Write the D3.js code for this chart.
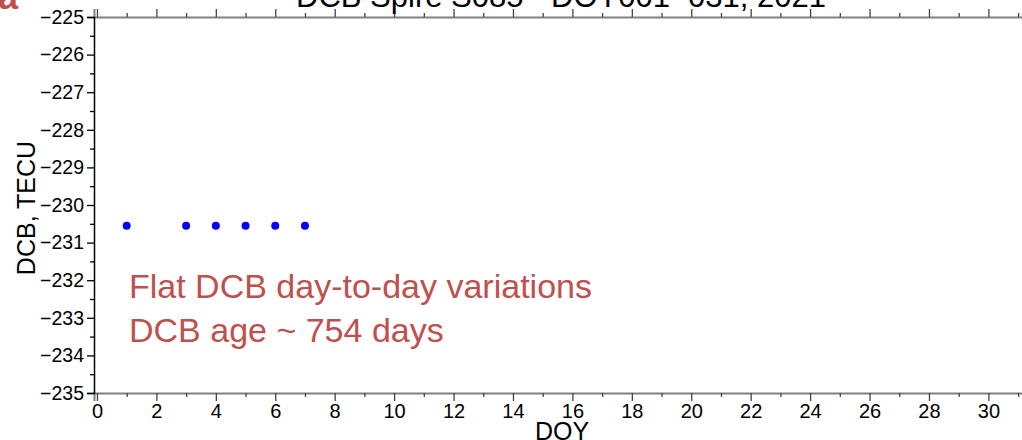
<!DOCTYPE html>
<html><head><meta charset="utf-8">
<script src="https://d3js.org/d3.v7.min.js"></script>
<style>body{margin:0;background:#fff}svg{display:block;font-family:"Liberation Sans",Arial,Helvetica,sans-serif}</style>
</head><body><svg id="c" width="1022" height="440"></svg>
<script>
const days = [1, 3, 4, 5, 6, 7];
const dcbValues = [-230.55, -230.55, -230.55, -230.55, -230.55, -230.55];
const xTickLabels = [0, 2, 4, 6, 8, 10, 12, 14, 16, 18, 20, 22, 24, 26, 28, 30];
const yTickLabels = [-225, -226, -227, -228, -229, -230, -231, -232, -233, -234, -235];
const titleText = "DCB Spire S085 - DOY001\u2212031, 2021";
const noteLines = ["Flat DCB day-to-day variations", "DCB age ~ 754 days"];

const svg = d3.select("#c");
const x = d3.scaleLinear().domain([-0.1, 31.4]).range([94, 1030]);
const y = d3.scaleLinear().domain([-235, -225]).range([393, 17]);
const fmt = d => String(d).replace("-", "\u2212");

const xMinor = d3.range(1, 32, 2);
const yMinor = d3.range(-234.5, -225, 1);

// bottom axis
const gB = svg.append("g").attr("transform", `translate(0,${y(-235)})`)
  .call(d3.axisBottom(x).tickValues(xTickLabels).tickSize(8).tickPadding(3).tickFormat(fmt));
gB.select(".domain").attr("stroke", "#808080").attr("stroke-width", 2);
gB.selectAll(".tick line").attr("stroke", "#444").attr("stroke-width", 1.3);
gB.selectAll("text").attr("font-size", 20).attr("fill", "#000");
const gBm = svg.append("g").attr("transform", `translate(0,${y(-235)})`)
  .call(d3.axisBottom(x).tickValues(xMinor).tickSize(4).tickFormat(""));
gBm.select(".domain").remove();
gBm.selectAll(".tick line").attr("stroke", "#444").attr("stroke-width", 1.3);

// top axis
const gT = svg.append("g").attr("transform", `translate(0,${y(-225)})`)
  .call(d3.axisTop(x).tickValues(xTickLabels).tickSize(8).tickFormat(""));
gT.select(".domain").attr("stroke", "#808080").attr("stroke-width", 2);
gT.selectAll(".tick line").attr("stroke", "#444").attr("stroke-width", 1.3);
const gTm = svg.append("g").attr("transform", `translate(0,${y(-225)})`)
  .call(d3.axisTop(x).tickValues(xMinor).tickSize(4).tickFormat(""));
gTm.select(".domain").remove();
gTm.selectAll(".tick line").attr("stroke", "#444").attr("stroke-width", 1.3);

// left axis
const gL = svg.append("g").attr("transform", `translate(${x(-0.1)},0)`)
  .call(d3.axisLeft(y).tickValues(yTickLabels).tickSize(7).tickPadding(3).tickFormat(fmt));
gL.select(".domain").attr("stroke", "#000").attr("stroke-width", 1.5);
gL.selectAll(".tick line").attr("stroke", "#000").attr("stroke-width", 1.3);
gL.selectAll("text").attr("font-size", 19.5).attr("fill", "#000");
const gLm = svg.append("g").attr("transform", `translate(${x(-0.1)},0)`)
  .call(d3.axisLeft(y).tickValues(yMinor).tickSize(4).tickFormat(""));
gLm.select(".domain").remove();
gLm.selectAll(".tick line").attr("stroke", "#000").attr("stroke-width", 1.3);

// points
svg.append("g").selectAll("circle").data(days).join("circle")
  .attr("cx", (d) => x(d)).attr("cy", (d, i) => y(dcbValues[i])).attr("r", 4).attr("fill", "#0000ff");

// title
svg.append("text").attr("x", 561).attr("y", 7).attr("text-anchor", "middle")
  .attr("font-size", 31).attr("fill", "#000").text(titleText);

// panel letter
svg.append("text").attr("x", -2).attr("y", 9).attr("font-size", 36).attr("font-weight", "bold")
  .attr("fill", "#c0504d").text("a");

// axis labels
svg.append("text").attr("transform", "translate(35,208) rotate(-90)").attr("text-anchor", "middle")
  .attr("font-size", 25).attr("fill", "#000").text("DCB, TECU");
svg.append("text").attr("x", 562).attr("y", 440).attr("text-anchor", "middle")
  .attr("font-size", 25).attr("fill", "#000").text("DOY");

// annotation
svg.append("g").selectAll("text").data(noteLines).join("text")
  .attr("x", 129).attr("y", (d, i) => 298 + i * 44)
  .attr("font-size", 34).attr("fill", "#c0504d").text(d => d);
</script></body></html>
